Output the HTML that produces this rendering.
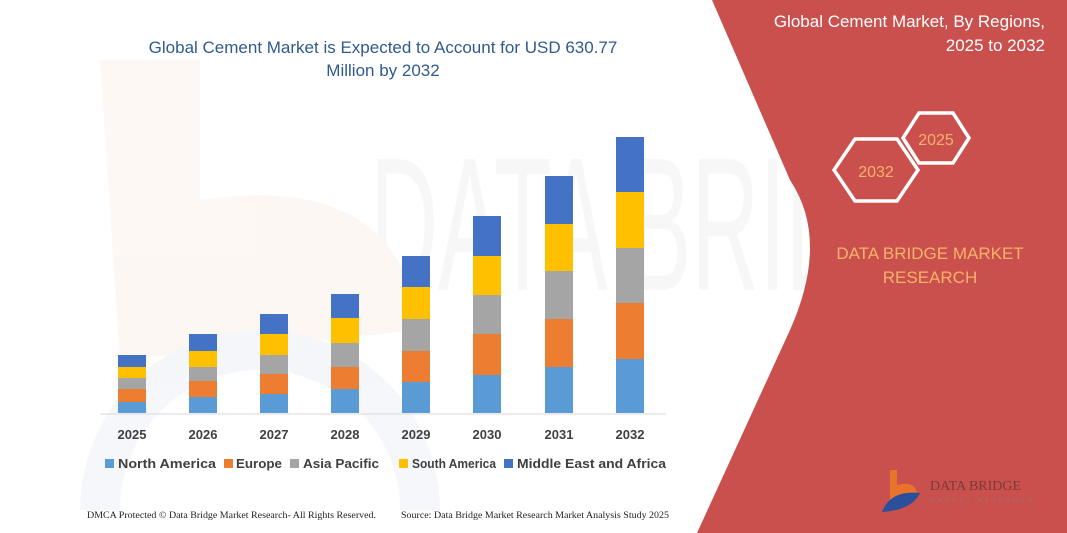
<!DOCTYPE html>
<html><head><meta charset="utf-8"><style>
html,body{margin:0;padding:0;background:#fff;width:1067px;height:533px;overflow:hidden}
svg{display:block}
</style></head><body>
<svg width="1067" height="533" viewBox="0 0 1067 533" xmlns="http://www.w3.org/2000/svg" font-family="Liberation Sans, sans-serif">
<rect width="1067" height="533" fill="#fff"/>
<!-- faint watermark -->
<g opacity="0.045">
<text x="370" y="290" font-size="190" fill="#555" textLength="620" lengthAdjust="spacingAndGlyphs">DATA BRIDGE</text>
<path d="M100 60 L200 60 L200 200 Q400 170 420 330 L120 360 Z" fill="#e85a1a"/>
<path d="M100 510 A160 160 0 1 1 420 510" fill="none" stroke="#2a4a8a" stroke-width="40"/>
</g>
<!-- red panel -->
<path d="M712 0 L1067 0 L1067 533 L697 533 L790 330 Q830 240 790 180 Z" fill="#c9504d"/>
<text x="1045" y="27" font-size="17" fill="#fff" text-anchor="end">Global Cement Market, By Regions,</text>
<text x="1045" y="51" font-size="17" fill="#fff" text-anchor="end">2025 to 2032</text>
<polygon points="855,139 897,139 918,170 897,201 855,201 834,170" fill="none" stroke="#fff" stroke-width="3.5"/>
<polygon points="919,113 953,113 969,138 953,163 919,163 903,138" fill="none" stroke="#fff" stroke-width="3.5"/>
<text x="876" y="177" font-size="16" fill="#f7b26a" text-anchor="middle">2032</text>
<text x="936" y="145" font-size="16" fill="#f7b26a" text-anchor="middle">2025</text>
<text x="930" y="259" font-size="17" fill="#f7b26a" text-anchor="middle">DATA BRIDGE MARKET</text>
<text x="930" y="283" font-size="17" fill="#f7b26a" text-anchor="middle">RESEARCH</text>
<!-- logo -->
<path d="M890 470 L897 470 L897 485 Q915 480 918 495 L890 500 Z" fill="#e8732a"/>
<path d="M882 512 Q890 490 920 493 Q912 510 882 512 Z" fill="#2b4f9a"/>
<text x="930" y="490" font-size="14" fill="#7a3a3a" font-family="Liberation Serif, serif">DATA BRIDGE</text>
<text x="930" y="502" font-size="6" fill="#aa6a6a" letter-spacing="3">MARKET RESEARCH</text>
<!-- title -->
<text x="383" y="53" font-size="17" fill="#2f5b8e" text-anchor="middle">Global Cement Market is Expected to Account for USD 630.77</text>
<text x="383" y="76" font-size="17" fill="#2f5b8e" text-anchor="middle">Million by 2032</text>
<!-- axis -->
<line x1="100" y1="414" x2="666" y2="414" stroke="#d9d9d9" stroke-width="1"/>
<g id="bars">
<rect x="118" y="402" width="28" height="11" fill="#5b9bd5"/><rect x="118" y="389" width="28" height="13" fill="#ed7d31"/><rect x="118" y="378" width="28" height="11" fill="#a5a5a5"/><rect x="118" y="367" width="28" height="11" fill="#ffc000"/><rect x="118" y="355" width="28" height="12" fill="#4472c4"/>
<rect x="189" y="397" width="28" height="16" fill="#5b9bd5"/><rect x="189" y="381" width="28" height="16" fill="#ed7d31"/><rect x="189" y="367" width="28" height="14" fill="#a5a5a5"/><rect x="189" y="351" width="28" height="16" fill="#ffc000"/><rect x="189" y="334" width="28" height="17" fill="#4472c4"/>
<rect x="260" y="394" width="28" height="19" fill="#5b9bd5"/><rect x="260" y="374" width="28" height="20" fill="#ed7d31"/><rect x="260" y="355" width="28" height="19" fill="#a5a5a5"/><rect x="260" y="334" width="28" height="21" fill="#ffc000"/><rect x="260" y="314" width="28" height="20" fill="#4472c4"/>
<rect x="331" y="389" width="28" height="24" fill="#5b9bd5"/><rect x="331" y="367" width="28" height="22" fill="#ed7d31"/><rect x="331" y="343" width="28" height="24" fill="#a5a5a5"/><rect x="331" y="318" width="28" height="25" fill="#ffc000"/><rect x="331" y="294" width="28" height="24" fill="#4472c4"/>
<rect x="402" y="382" width="28" height="31" fill="#5b9bd5"/><rect x="402" y="351" width="28" height="31" fill="#ed7d31"/><rect x="402" y="319" width="28" height="32" fill="#a5a5a5"/><rect x="402" y="287" width="28" height="32" fill="#ffc000"/><rect x="402" y="256" width="28" height="31" fill="#4472c4"/>
<rect x="473" y="375" width="28" height="38" fill="#5b9bd5"/><rect x="473" y="334" width="28" height="41" fill="#ed7d31"/><rect x="473" y="295" width="28" height="39" fill="#a5a5a5"/><rect x="473" y="256" width="28" height="39" fill="#ffc000"/><rect x="473" y="216" width="28" height="40" fill="#4472c4"/>
<rect x="545" y="367" width="28" height="46" fill="#5b9bd5"/><rect x="545" y="319" width="28" height="48" fill="#ed7d31"/><rect x="545" y="271" width="28" height="48" fill="#a5a5a5"/><rect x="545" y="224" width="28" height="47" fill="#ffc000"/><rect x="545" y="176" width="28" height="48" fill="#4472c4"/>
<rect x="616" y="359" width="28" height="54" fill="#5b9bd5"/><rect x="616" y="303" width="28" height="56" fill="#ed7d31"/><rect x="616" y="248" width="28" height="55" fill="#a5a5a5"/><rect x="616" y="192" width="28" height="56" fill="#ffc000"/><rect x="616" y="137" width="28" height="55" fill="#4472c4"/>
</g>
<g font-size="13" font-weight="bold" fill="#404040" text-anchor="middle">
<text x="132" y="439">2025</text><text x="203" y="439">2026</text><text x="274" y="439">2027</text><text x="345" y="439">2028</text><text x="416" y="439">2029</text><text x="487" y="439">2030</text><text x="559" y="439">2031</text><text x="630" y="439">2032</text>
</g>
<g font-size="13" font-weight="bold" fill="#404040">
<rect x="105" y="459" width="9" height="9" fill="#5b9bd5"/><text x="118" y="468" textLength="98" lengthAdjust="spacingAndGlyphs">North America</text>
<rect x="224" y="459" width="9" height="9" fill="#ed7d31"/><text x="236" y="468" textLength="46" lengthAdjust="spacingAndGlyphs">Europe</text>
<rect x="290" y="459" width="9" height="9" fill="#a5a5a5"/><text x="303" y="468" textLength="76" lengthAdjust="spacingAndGlyphs">Asia Pacific</text>
<rect x="399" y="459" width="9" height="9" fill="#ffc000"/><text x="412" y="468" textLength="84" lengthAdjust="spacingAndGlyphs">South America</text>
<rect x="504" y="459" width="9" height="9" fill="#4472c4"/><text x="517" y="468" textLength="149" lengthAdjust="spacingAndGlyphs">Middle East and Africa</text>
</g>
<g font-size="9" fill="#222" font-family="Liberation Serif, serif">
<text x="87" y="518" textLength="289" lengthAdjust="spacingAndGlyphs">DMCA Protected © Data Bridge Market Research-  All Rights Reserved.</text>
<text x="401" y="518" textLength="268" lengthAdjust="spacingAndGlyphs">Source: Data Bridge Market Research  Market Analysis Study 2025</text>
</g>
</svg>
</body></html>
